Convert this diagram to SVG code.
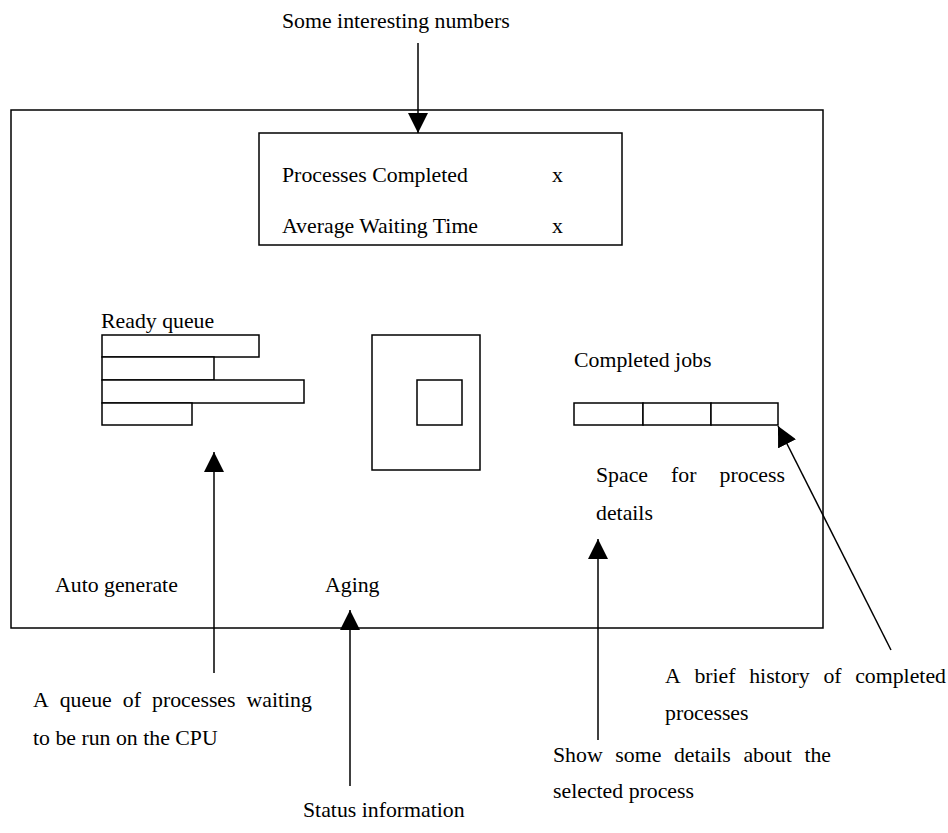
<svg xmlns="http://www.w3.org/2000/svg" width="948" height="833" viewBox="0 0 948 833">
<style>
  text { font-family: "Liberation Serif", "Times New Roman", serif; font-size: 21.8px; fill: #000; }
  .box { fill: #fff; stroke: #000; stroke-width: 1.5; }
  .conn { stroke: #000; stroke-width: 1.5; fill: none; marker-end: url(#arrow); }
</style>
<defs>
  <marker id="arrow" viewBox="0 0 20 20" refX="20" refY="10" markerWidth="20" markerHeight="20" markerUnits="userSpaceOnUse" orient="auto">
    <path d="M0,0 L20,10 L0,20 z" fill="#000"/>
  </marker>
</defs>
<rect width="948" height="833" fill="#fff"/>

<g id="frame">
  <rect class="box" x="11" y="110" width="812" height="518"/>
</g>

<g id="stats">
  <rect class="box" x="259" y="133" width="363" height="112"/>
  <text x="282" y="182">Processes Completed</text>
  <text x="552" y="182">x</text>
  <text x="282" y="233">Average Waiting Time</text>
  <text x="552" y="233">x</text>
</g>

<g id="ready-queue">
  <text x="101" y="328">Ready queue</text>
  <rect class="box" x="102" y="335" width="157" height="22"/>
  <rect class="box" x="102" y="357" width="112" height="23"/>
  <rect class="box" x="102" y="380" width="202" height="23"/>
  <rect class="box" x="102" y="403" width="90" height="22"/>
</g>

<g id="cpu">
  <rect class="box" x="372" y="335" width="108" height="135"/>
  <rect class="box" x="417" y="380" width="45" height="45"/>
</g>

<g id="completed-jobs">
  <text x="574" y="367">Completed jobs</text>
  <rect class="box" x="574" y="403" width="69" height="22"/>
  <rect class="box" x="643" y="403" width="68" height="22"/>
  <rect class="box" x="711" y="403" width="67" height="22"/>
</g>

<g id="process-details">
  <text y="482"><tspan x="596">Space</tspan><tspan x="671.1">for</tspan><tspan x="719.6">process</tspan></text>
  <text x="596" y="520">details</text>
</g>

<g id="auto-generate">
  <text x="55" y="592">Auto generate</text>
</g>
<g id="aging">
  <text x="325" y="592">Aging</text>
</g>

<g id="label-numbers">
  <text x="282" y="28">Some interesting numbers</text>
</g>
<g id="label-queue">
  <text y="707"><tspan x="33">A</tspan><tspan x="59.7">queue</tspan><tspan x="122.8">of</tspan><tspan x="152">processes</tspan><tspan x="246.5">waiting</tspan></text>
  <text x="33" y="745">to be run on the CPU</text>
</g>
<g id="label-status">
  <text x="303" y="817">Status information</text>
</g>
<g id="label-details">
  <text y="762"><tspan x="553">Show</tspan><tspan x="615.3">some</tspan><tspan x="673.9">details</tspan><tspan x="743.4">about</tspan><tspan x="804.4">the</tspan></text>
  <text x="553" y="798">selected process</text>
</g>
<g id="label-history">
  <text y="683"><tspan x="665">A</tspan><tspan x="694.4">brief</tspan><tspan x="749.2">history</tspan><tspan x="823.4">of</tspan><tspan x="855.2">completed</tspan></text>
  <text x="665" y="720">processes</text>
</g>

<g id="connectors">
  <line class="conn" x1="418" y1="43" x2="418" y2="133"/>
  <line class="conn" x1="214" y1="673" x2="214" y2="452"/>
  <line class="conn" x1="350" y1="786" x2="350" y2="610"/>
  <line class="conn" x1="598" y1="740" x2="598" y2="539"/>
  <line class="conn" x1="891" y1="650" x2="778" y2="426"/>
</g>
</svg>
